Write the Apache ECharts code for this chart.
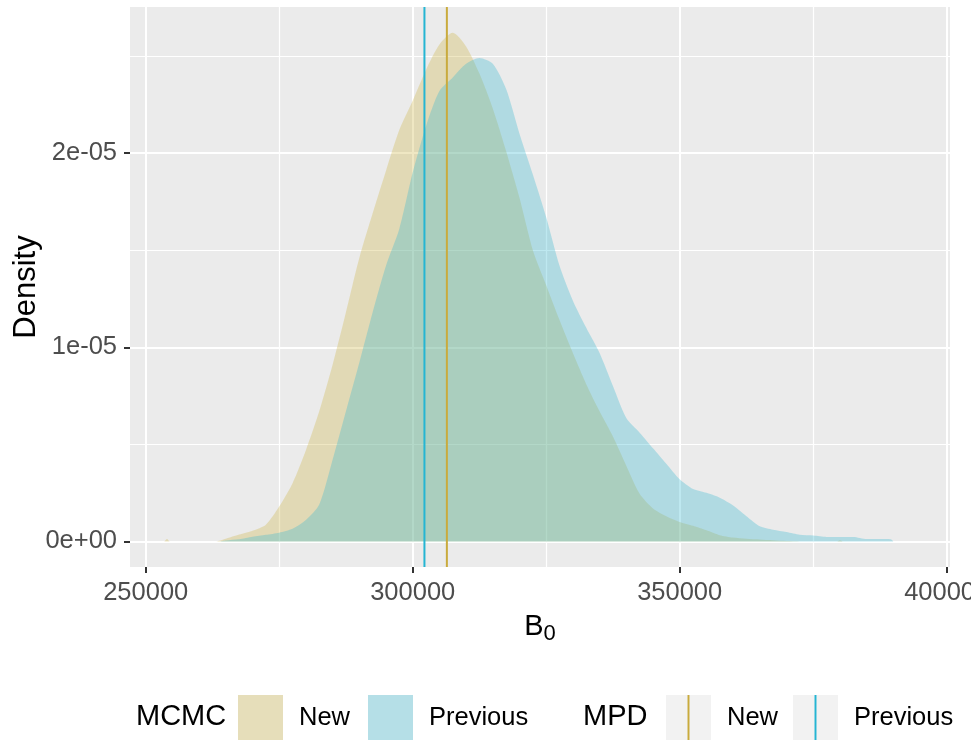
<!DOCTYPE html>
<html>
<head>
<meta charset="utf-8">
<script src="https://cdn.jsdelivr.net/npm/echarts@6/dist/echarts.min.js"></script>
<style>
  html, body { margin: 0; padding: 0; background: #ffffff; }
  #chart { width: 971px; height: 740px; }
</style>
</head>
<body>
<div id="chart"></div>
<script>
// Posterior samples of B0 binned into densities, for the new and previous MCMC runs
const b0New = [253500, 254000, 254500, 263000,
  265000, 267500, 270000, 272500, 275000, 277500, 280000, 282500, 285000, 287500,
  290000, 292500, 295000, 297500, 300000, 302500, 305000, 307500, 310000, 312500,
  315000, 317500, 320000, 322500, 325000, 327500, 330000, 332500, 335000, 337500,
  340000, 342500, 345000, 347500, 350000, 352500, 355000, 357500, 360000, 362500,
  365000, 367500, 370000, 372500, 379500, 380000, 380500];
const densityNew = [0, 1.2e-7, 0, 0,
  1.4e-7, 3.5e-7, 5.5e-7, 8.6e-7, 1.8e-6, 3.0e-6, 4.7e-6, 6.7e-6, 9.1e-6, 1.18e-5,
  1.46e-5, 1.69e-5, 1.91e-5, 2.12e-5, 2.27e-5, 2.43e-5, 2.56e-5, 2.62e-5, 2.55e-5, 2.41e-5,
  2.23e-5, 2.01e-5, 1.77e-5, 1.50e-5, 1.32e-5, 1.14e-5, 9.7e-6, 8.1e-6, 6.7e-6, 5.4e-6,
  3.9e-6, 2.45e-6, 1.7e-6, 1.3e-6, 1.0e-6, 8.0e-7, 5.7e-7, 3.2e-7, 2.0e-7, 1.4e-7,
  1.0e-7, 6e-8, 2e-8, 0, 0, 6e-8, 0];

const b0Previous = [264000,
  265000, 267500, 270000, 272500, 275000, 277500, 280000, 282500, 285000, 287500,
  290000, 292500, 295000, 297500, 300000, 302500, 305000, 307500, 310000, 312500,
  315000, 317500, 320000, 322500, 325000, 327500, 330000, 332500, 335000, 337500,
  340000, 342500, 345000, 347500, 350000, 352500, 355000, 357500, 360000, 362500,
  365000, 367500, 370000, 372500, 375000, 377500, 380000, 382500, 385000, 387500,
  389500, 390000];
const densityPrevious = [0,
  5e-8, 1.1e-7, 2.4e-7, 3.4e-7, 4.5e-7, 6.5e-7, 1.1e-6, 1.9e-6, 4.2e-6, 6.7e-6,
  9.2e-6, 1.18e-5, 1.42e-5, 1.61e-5, 1.90e-5, 2.14e-5, 2.32e-5, 2.39e-5, 2.46e-5, 2.49e-5,
  2.46e-5, 2.33e-5, 2.10e-5, 1.89e-5, 1.67e-5, 1.42e-5, 1.24e-5, 1.10e-5, 9.7e-6, 8.0e-6,
  6.35e-6, 5.6e-6, 4.8e-6, 4.0e-6, 3.2e-6, 2.7e-6, 2.5e-6, 2.25e-6, 1.85e-6, 1.3e-6,
  7.8e-7, 6.0e-7, 4.8e-7, 3.4e-7, 3.0e-7, 2.3e-7, 2.3e-7, 2.3e-7, 1.2e-7, 1.2e-7,
  1.1e-7, 0];

// Maximum posterior density estimates
const mpdNew = 306400;
const mpdPrevious = 302200;

// Axis ticks and labels
const xMajorTicks = [250000, 300000, 350000, 400000];
const xMinorTicks = [275000, 325000, 375000];
const yMajorTicks = [0, 1e-5, 2e-5];
const yMajorLabels = ['0e+00', '1e-05', '2e-05'];
const yMinorTicks = [5e-6, 1.5e-5, 2.5e-5];

// Plot extents (padded around the data)
const X_MIN = 247060, X_MAX = 400620;
const Y_MIN = -1.32e-6, Y_MAX = 2.753e-5;

const FONT = 'Liberation Sans, Arial, sans-serif';
const TAN = 'rgb(205,181,73)';
const CYAN = 'rgb(58,184,208)';
const TAN_LINE = '#C9AB3D';
const CYAN_LINE = '#25B5D3';

const chart = echarts.init(document.getElementById('chart'), null, { renderer: 'canvas' });

function xAxisBase(extra) {
  return Object.assign({
    type: 'value', gridIndex: 0, min: X_MIN, max: X_MAX, position: 'bottom',
    axisLine: { show: false, onZero: false }
  }, extra);
}
function yAxisBase(extra) {
  return Object.assign({
    type: 'value', gridIndex: 0, min: Y_MIN, max: Y_MAX, position: 'left',
    axisLine: { show: false, onZero: false }
  }, extra);
}

// Vertical bar centred in a square key; the corner moves keep the full square as bounds
const vbarIcon = 'path://M0,0M46,46M22,0H24V46H22Z';

function legendAt(left, name, icon, color) {
  return {
    left: left, top: 695, orient: 'horizontal', padding: 0,
    itemWidth: 45, itemHeight: 45, itemGap: 18,
    selectedMode: false,
    formatter: n => n.replace('MPD ', ''),
    textStyle: { fontFamily: FONT, fontSize: 25.5, color: '#000', padding: [0, 0, 0, 11] },
    data: [{ name: name, icon: icon, itemStyle: { color: color, borderWidth: 0, opacity: 1 } }]
  };
}

const option = {
  animation: false,
  backgroundColor: '#ffffff',
  grid: {
    left: 130, top: 7, width: 820, height: 560,
    show: true, backgroundColor: '#EBEBEB', borderWidth: 0,
    containLabel: false, outerBoundsMode: 'none'
  },
  xAxis: [
    xAxisBase({
      axisTick: { show: true, customValues: xMajorTicks, length: 6, lineStyle: { color: '#333333', width: 2 } },
      axisLabel: {
        show: true, customValues: xMajorTicks, margin: 13,
        fontFamily: FONT, fontSize: 25.5, color: '#4D4D4D',
        formatter: v => String(Math.round(v))
      },
      splitLine: { show: true, lineStyle: { color: '#FFFFFF', width: 2 } },
      name: '{b|B}{s|0}',
      nameLocation: 'middle',
      nameGap: 45,
      nameMoveOverlap: false,
      nameTextStyle: {
        rich: {
          b: { fontFamily: FONT, fontSize: 29, color: '#000', verticalAlign: 'top' },
          s: { fontFamily: FONT, fontSize: 22, color: '#000', verticalAlign: 'top', padding: [11, 0, 0, 0] }
        }
      }
    }),
    xAxisBase({
      axisTick: { show: false, customValues: xMinorTicks },
      axisLabel: { show: false },
      splitLine: { show: true, lineStyle: { color: '#FFFFFF', width: 1.2 } }
    })
  ],
  yAxis: [
    yAxisBase({
      axisTick: { show: true, customValues: yMajorTicks, length: 6, lineStyle: { color: '#333333', width: 2 } },
      axisLabel: {
        show: true, customValues: yMajorTicks, margin: 13,
        fontFamily: FONT, fontSize: 25.5, color: '#4D4D4D',
        formatter: v => {
          const i = yMajorTicks.findIndex(t => Math.abs(t - v) < 1e-9);
          return i >= 0 ? yMajorLabels[i] : '';
        }
      },
      splitLine: { show: true, lineStyle: { color: '#FFFFFF', width: 2 } },
      name: 'Density',
      nameLocation: 'middle',
      nameGap: 88,
      nameMoveOverlap: false,
      nameTextStyle: { fontFamily: FONT, fontSize: 31, color: '#000' }
    }),
    yAxisBase({
      axisTick: { show: false, customValues: yMinorTicks },
      axisLabel: { show: false },
      splitLine: { show: true, lineStyle: { color: '#FFFFFF', width: 1.2 } }
    })
  ],
  legend: [
    legendAt(238, 'New', 'rect', '#E6DEBA'),
    legendAt(368, 'Previous', 'rect', '#B5DFE7'),
    legendAt(666, 'MPD New', vbarIcon, TAN_LINE),
    legendAt(793, 'MPD Previous', vbarIcon, CYAN_LINE)
  ],
  graphic: [
    { type: 'text', left: 136, top: 702, z: 10,
      style: { text: 'MCMC', font: '29px ' + FONT, fill: '#000' } },
    { type: 'text', left: 583, top: 702, z: 10,
      style: { text: 'MPD', font: '29px ' + FONT, fill: '#000' } },
    { type: 'rect', left: 666, top: 695, z: -1, silent: true,
      shape: { width: 45, height: 45 }, style: { fill: '#F2F2F2' } },
    { type: 'rect', left: 793, top: 695, z: -1, silent: true,
      shape: { width: 45, height: 45 }, style: { fill: '#F2F2F2' } }
  ],
  series: [
    {
      name: 'New', type: 'line', xAxisIndex: 0, yAxisIndex: 0,
      data: b0New.map((b, i) => [b, densityNew[i]]),
      symbol: 'none', smooth: 0.25, silent: true, z: 2,
      itemStyle: { color: TAN },
      lineStyle: { width: 0, opacity: 0 },
      areaStyle: { color: TAN, opacity: 0.33, origin: 0 }
    },
    {
      name: 'Previous', type: 'line', xAxisIndex: 0, yAxisIndex: 0,
      data: b0Previous.map((b, i) => [b, densityPrevious[i]]),
      symbol: 'none', smooth: 0.25, silent: true, z: 3,
      itemStyle: { color: CYAN },
      lineStyle: { width: 0, opacity: 0 },
      areaStyle: { color: CYAN, opacity: 0.33, origin: 0 }
    },
    {
      name: 'MPD New', type: 'line', xAxisIndex: 0, yAxisIndex: 0,
      data: [[mpdNew, Y_MIN], [mpdNew, Y_MAX]],
      symbol: 'none', silent: true, z: 5,
      itemStyle: { color: TAN_LINE },
      lineStyle: { color: TAN_LINE, width: 2 }
    },
    {
      name: 'MPD Previous', type: 'line', xAxisIndex: 0, yAxisIndex: 0,
      data: [[mpdPrevious, Y_MIN], [mpdPrevious, Y_MAX]],
      symbol: 'none', silent: true, z: 5,
      itemStyle: { color: CYAN_LINE },
      lineStyle: { color: CYAN_LINE, width: 2 }
    }
  ]
};

chart.setOption(option);
</script>
</body>
</html>
